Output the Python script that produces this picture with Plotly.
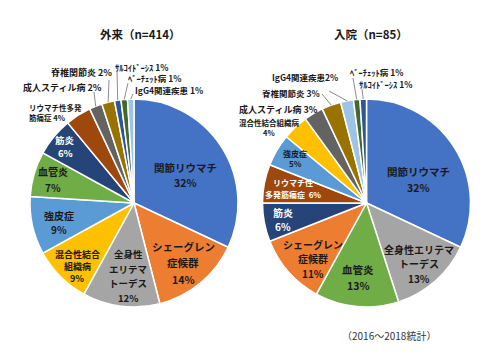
import math
import plotly.graph_objects as go

# ---------------- data ----------------
out_labels = ["関節リウマチ", "シェーグレン症候群", "全身性エリテマトーデス", "混合性結合組織病",
              "強皮症", "血管炎", "筋炎", "リウマチ性多発筋痛症", "成人スティル病",
              "脊椎関節炎", "サルコイドーシス", "ベーチェット病", "IgG4関連疾患"]
out_values = [32, 14, 12, 9, 9, 7, 6, 4, 2, 2, 1, 1, 1]
out_text = ["関節リウマチ<br>32%", "シェーグレン<br>症候群<br>14%", "全身性<br>エリテマ<br>トーデス<br>12%",
            "混合性結合<br>組織病<br>9%", "強皮症<br>9%", "血管炎<br>7%", "筋炎<br>6%",
            "リウマチ性多発<br>筋痛症 4%", "成人スティル病 2%", "脊椎関節炎 2%",
            "ｻﾙｺｲﾄﾞｰｼｽ 1%", "ﾍﾞｰﾁｪｯﾄ病 1%", "IgG4関連疾患 1%"]

in_labels = ["関節リウマチ", "全身性エリテマトーデス", "血管炎", "シェーグレン症候群", "筋炎",
             "リウマチ性多発筋痛症", "強皮症", "混合性結合組織病", "成人スティル病",
             "脊椎関節炎", "IgG4関連疾患", "ベーチェット病", "サルコイドーシス"]
in_values = [32, 13, 13, 11, 6, 6, 5, 4, 3, 3, 2, 1, 1]
in_text = ["関節リウマチ<br>32%", "全身性エリテマ<br>トーデス<br>13%", "血管炎<br>13%",
           "シェーグレン<br>症候群<br>11%", "筋炎<br>6%", "リウマチ性<br>多発筋痛症  6%", "強皮症<br>5%",
           "混合性結合組織病<br>4%", "成人スティル病 3%", "脊椎関節炎 3%", "IgG4関連疾患2%",
           "ﾍﾞｰﾁｪｯﾄ病 1%", "ｻﾙｺｲﾄﾞｰｼｽ 1%"]

titles = ["外来（n=414）", "入院（n=85）"]
footnote = "（2016～2018統計）"

# ---------------- styles / layout ----------------
W, H = 500, 360
FONT = "Noto Sans CJK JP"
colors = {
    "関節リウマチ": "#4472C4", "シェーグレン症候群": "#ED7D31", "全身性エリテマトーデス": "#A5A5A5",
    "混合性結合組織病": "#FFC000", "強皮症": "#5B9BD5", "血管炎": "#70AD47", "筋炎": "#264478",
    "リウマチ性多発筋痛症": "#9E480E", "成人スティル病": "#636363", "脊椎関節炎": "#997300",
    "サルコイドーシス": "#2F5597", "ベーチェット病": "#43682B", "IgG4関連疾患": "#9DC3E6",
}
# pie geometry in pixels: centre x, centre y, radius
pies_geom = [(134, 203, 104), (366.5, 203, 104)]

# label layout per slice: (x px, first-line y px, line spacing px, font size, anchor, color)
D, Wt = "#1a1a1a", "white"
out_pos = [(185, 167, 15, 10.5, "center", D), (183, 246, 16.5, 10.5, "center", D),
           (128, 254, 14.7, 9.5, "center", D), (77, 254, 12, 9, "center", D),
           (59, 215, 14, 10, "center", D), (53, 171, 16, 10, "center", D),
           (65, 140, 13, 9.5, "center", Wt), (27, 107.5, 10, 7.5, "left", D),
           (62, 87, 0, 9, "center", D), (81, 73, 0, 9, "center", D),
           (141.5, 66.5, 0, 8.5, "center", D), (154, 78, 0, 8.5, "center", D),
           (168.5, 89.5, 0, 8.5, "center", D)]
in_pos = [(418.5, 171, 16, 10.5, "center", D), (419, 249, 14.5, 10, "center", D),
          (358, 269, 16, 10.5, "center", D), (313, 244, 14.5, 10, "center", D),
          (283, 212, 14, 10, "center", Wt), (293, 182, 12, 8, "center", Wt),
          (295, 153, 11, 8, "center", D), (269, 122, 10, 7.5, "center", D),
          (278.5, 109, 0, 9, "center", D), (291, 93, 0, 8.5, "center", D),
          (304.5, 77, 0, 8.5, "center", D), (376, 72, 0, 8.5, "center", D),
          (385.5, 84, 0, 8.5, "center", D)]
# leader line outer ends (px) for slices whose labels sit outside
out_leaders = {8: (94, 92), 9: (109, 80), 10: (117, 71), 11: (128, 83), 12: (133, 94)}
in_leaders = {9: (322, 94), 10: (329, 91), 11: (353, 78), 12: (362, 89)}


def px(x):
    return x / W


def py(y):
    return 1 - y / H


fig = go.Figure()


def add_pie(labels, values, geom):
    cx, cy, r = geom
    fig.add_trace(go.Pie(
        labels=labels, values=values, textinfo="none", sort=False,
        direction="clockwise", rotation=0,
        marker=dict(colors=[colors[l] for l in labels], line=dict(color="white", width=1.5)),
        showlegend=False, hoverinfo="label+percent",
        domain=dict(x=[px(cx - r), px(cx + r)], y=[py(cy + r), py(cy - r)]),
    ))


def add_labels(texts, pos):
    for t, (x, y, sp, size, anchor, col) in zip(texts, pos):
        for i, line in enumerate(t.split("<br>")):
            fig.add_annotation(x=px(x), y=py(y + i * sp), xref="paper", yref="paper",
                               text=line, showarrow=False, xanchor=anchor, yanchor="middle",
                               font=dict(family=FONT, size=size, color=col, weight="bold"))


def add_leaders(values, geom, leaders):
    cx, cy, r = geom
    total = sum(values)
    cum = 0
    for i, v in enumerate(values):
        mid = 2 * math.pi * (cum + v / 2) / total
        cum += v
        if i in leaders:
            ex, ey = cx + r * math.sin(mid), cy - r * math.cos(mid)
            lx, ly = leaders[i]
            fig.add_shape(type="line", xref="paper", yref="paper",
                          x0=px(ex), y0=py(ey), x1=px(lx), y1=py(ly),
                          line=dict(color="#8c8c8c", width=1))


add_pie(out_labels, out_values, pies_geom[0])
add_pie(in_labels, in_values, pies_geom[1])
add_leaders(out_values, pies_geom[0], out_leaders)
add_leaders(in_values, pies_geom[1], in_leaders)
add_labels(out_text, out_pos)
add_labels(in_text, in_pos)

fig.add_annotation(x=px(140), y=py(34), xref="paper", yref="paper", text=titles[0],
                   showarrow=False, xanchor="center", yanchor="middle",
                   font=dict(family=FONT, size=11.5, color="#1a1a1a", weight="bold"))
fig.add_annotation(x=px(371), y=py(34), xref="paper", yref="paper", text=titles[1],
                   showarrow=False, xanchor="center", yanchor="middle",
                   font=dict(family=FONT, size=11.5, color="#1a1a1a", weight="bold"))
fig.add_annotation(x=px(389), y=py(335), xref="paper", yref="paper", text=footnote,
                   showarrow=False, xanchor="center", yanchor="middle",
                   font=dict(family=FONT, size=10, color="#333333"))

fig.update_layout(width=W, height=H, margin=dict(l=0, r=0, t=0, b=0),
                  paper_bgcolor="white", plot_bgcolor="white")
fig.write_html("out.html", config={"displayModeBar": False},
               post_script="document.body.style.margin='0px';")
